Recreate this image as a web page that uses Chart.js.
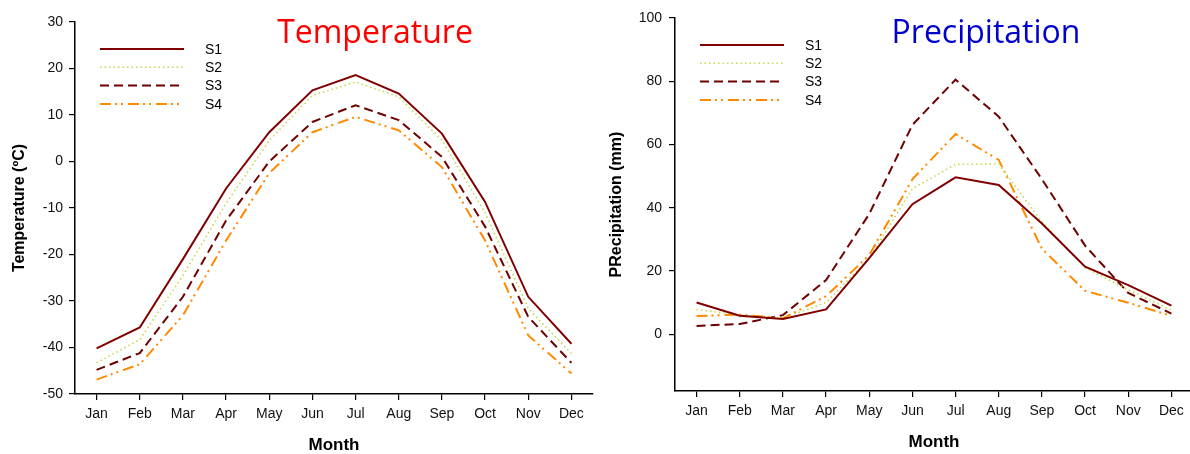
<!DOCTYPE html>
<html>
<head>
<meta charset="utf-8">
<script src="https://cdn.jsdelivr.net/npm/chart.js@4.4.1/dist/chart.umd.min.js"></script>
<style>
  html, body { margin: 0; padding: 0; background: #fff; overflow: hidden; }
  #wrap { position: relative; width: 1190px; height: 454px; overflow: hidden; }
  canvas { position: absolute; top: 0; }
  #c-temp { left: 0; }
  #c-prec { left: 595px; }
</style>
</head>
<body>
<div id="wrap">
  <canvas id="c-temp" width="595" height="454"></canvas>
  <canvas id="c-prec" width="600" height="454"></canvas>
</div>
<script>
const months = ["Jan", "Feb", "Mar", "Apr", "May", "Jun", "Jul", "Aug", "Sep", "Oct", "Nov", "Dec"];
const seriesNames = ["S1", "S2", "S3", "S4"];

// temperatura (ºC)
const tempS1 = [-40.2, -35.7, -21, -5.8, 6.3, 15.3, 18.6, 14.6, 6.0, -8.7, -29.1, -39.2];
const tempS2 = [-43.3, -38.3, -24.5, -9, 4.5, 14.2, 17.1, 13.9, 4.6, -11, -31.6, -41.3];
const tempS3 = [-44.8, -41.2, -29.1, -12.7, 0, 8.5, 12.1, 8.9, 1.0, -14, -33.4, -43.3];
const tempS4 = [-46.9, -43.6, -33.1, -17, -2.5, 6.3, 9.6, 6.7, -1.2, -17, -37.4, -45.6];

// precipitação (mm)
const precS1 = [10.0, 5.8, 4.8, 7.8, 24, 41.1, 49.6, 47.2, 35, 21.3, 15.5, 9.0];
const precS2 = [7.8, 6, 5, 10, 24, 46, 53.7, 53.8, 35.5, 21, 14, 7.6];
const precS3 = [2.6, 3.2, 6, 17.1, 38, 66.2, 80.5, 68.8, 49, 28, 13, 6.5];
const precS4 = [5.7, 6.2, 5, 12, 25, 49, 63.3, 55.1, 27, 13.7, 9.9, 5.8];

const tempTicks = { min: -50, max: 30, step: 10 };
const precTicks = { min: -18, max: 100, step: 20 };

// estilo de cada série: cor, espessura, tracejado
const estilos = [
    { color: "#800000", width: 2, dash: [] },
    { color: "#c8d84a", width: 1.6, dash: [1.5, 3] },
    { color: "#6e0000", width: 2, dash: [9, 5] },
    { color: "#ff8a00", width: 2, dash: [11, 4, 2, 4, 2, 5] },
];

const fonte = "'Liberation Sans', Arial, sans-serif";

function montarDatasets(series) {
    return series.map((valores, i) => ({
        label: seriesNames[i],
        data: valores,
        borderColor: estilos[i].color,
        borderWidth: estilos[i].width,
        borderDash: estilos[i].dash,
        pointRadius: 0,
        tension: 0,
        fill: false,
    }));
}

// legenda desenhada dentro da área do gráfico
const legendaInterna = {
    id: "legendaInterna",
    afterDatasetsDraw(chart, args, opts) {
        const { ctx, chartArea } = chart;
        const x0 = chartArea.left + 25;
        ctx.save();
        chart.data.datasets.forEach((ds, i) => {
            const y = chartArea.top + opts.offsetY + i * opts.rowGap;
            ctx.beginPath();
            ctx.setLineDash(ds.borderDash || []);
            ctx.strokeStyle = ds.borderColor;
            ctx.lineWidth = ds.borderWidth;
            ctx.moveTo(x0, y);
            ctx.lineTo(x0 + 84, y);
            ctx.stroke();
            ctx.setLineDash([]);
            ctx.fillStyle = "#000";
            ctx.font = "14px " + fonte;
            ctx.textBaseline = "middle";
            ctx.textAlign = "left";
            ctx.fillText(ds.label, x0 + 105, y + 1);
        });
        ctx.restore();
    },
};

// título grande colorido dentro do gráfico
const tituloInterno = {
    id: "tituloInterno",
    afterDraw(chart, args, opts) {
        const { ctx } = chart;
        ctx.save();
        ctx.font = "32px 'Open Sans', sans-serif";
        ctx.fillStyle = opts.color;
        ctx.textAlign = "center";
        ctx.textBaseline = "alphabetic";
        ctx.fillText(opts.text, opts.x, opts.y);
        ctx.restore();
    },
};

function montarOpcoes(cfg) {
    return {
        responsive: false,
        animation: false,
        layout: { padding: { top: cfg.padTop, right: 2, left: 0, bottom: 0 } },
        plugins: {
            legend: { display: false },
            tooltip: { enabled: false },
            legendaInterna: { offsetY: 27, rowGap: 18.3 },
            tituloInterno: { text: cfg.titulo, color: cfg.corTitulo, x: cfg.tituloX, y: 43 },
        },
        scales: {
            x: {
                type: "category",
                offset: true,
                grid: {
                    offset: false,
                    drawOnChartArea: false,
                    drawTicks: true,
                    tickLength: 6,
                    color: "#000",
                    lineWidth: 1.2,
                },
                border: { display: true, color: "#000", width: 1.5 },
                ticks: { color: "#111", font: { family: fonte, size: 14 }, padding: 6, maxRotation: 0, autoSkip: false },
                title: {
                    display: true,
                    text: "Month",
                    color: "#000",
                    font: { family: fonte, size: 17, weight: "bold", lineHeight: 1 },
                    padding: { top: 0, bottom: cfg.monthPad },
                },
                afterFit: s => { s.height = cfg.xHeight; },
            },
            y: {
                min: cfg.ticks.min,
                max: cfg.ticks.max,
                grid: {
                    drawOnChartArea: false,
                    drawTicks: true,
                    tickLength: 6,
                    color: "#000",
                    lineWidth: 1.2,
                },
                border: { display: true, color: "#000", width: 1.5 },
                ticks: { stepSize: cfg.ticks.step, color: "#111", font: { family: fonte, size: 14 }, padding: cfg.yPad },
                afterBuildTicks: axis => {
                    axis.ticks = axis.ticks.filter(t => t.value >= cfg.ticks.min && (t.value % cfg.ticks.step === 0));
                },
                title: {
                    display: true,
                    text: cfg.yTitulo,
                    color: "#000",
                    font: { family: fonte, size: 16, weight: "bold", lineHeight: 1 },
                    padding: { top: cfg.yTitlePad, bottom: 0 },
                },
                afterFit: s => { s.width = cfg.yWidth; },
            },
        },
    };
}

new Chart(document.getElementById("c-temp"), {
    type: "line",
    data: { labels: months, datasets: montarDatasets([tempS1, tempS2, tempS3, tempS4]) },
    options: montarOpcoes({
        ticks: tempTicks,
        padTop: 22,
        xHeight: 60,
        yWidth: 75,
        yPad: 6,
        yTitlePad: 12,
        monthPad: 0,
        yTitulo: "Temperature (ºC)",
        titulo: "Temperature",
        corTitulo: "#ff0000",
        tituloX: 375,
    }),
    plugins: [legendaInterna, tituloInterno],
});

new Chart(document.getElementById("c-prec"), {
    type: "line",
    data: { labels: months, datasets: montarDatasets([precS1, precS2, precS3, precS4]) },
    options: montarOpcoes({
        ticks: precTicks,
        padTop: 18,
        xHeight: 63,
        yWidth: 80,
        yPad: 7,
        yTitlePad: 14,
        monthPad: 3,
        yTitulo: "PRecipitation (mm)",
        titulo: "Precipitation",
        corTitulo: "#0000cc",
        tituloX: 391,
    }),
    plugins: [legendaInterna, tituloInterno],
});
</script>
</body>
</html>
